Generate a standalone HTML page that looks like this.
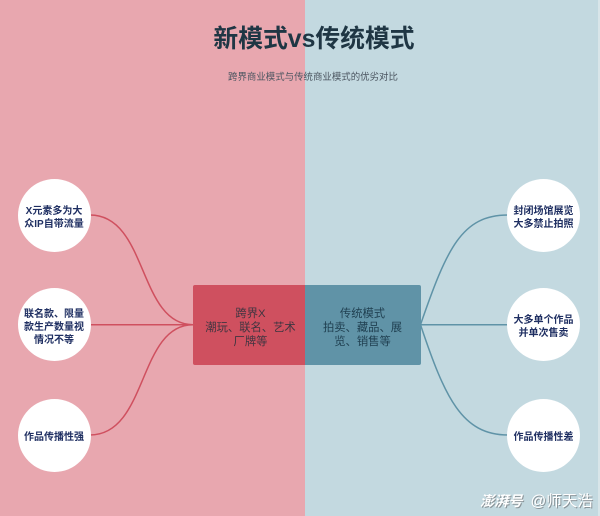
<!DOCTYPE html>
<html>
<head>
<meta charset="utf-8">
<style>
html,body{margin:0;padding:0}
body{width:600px;height:516px;position:relative;overflow:hidden;background:#c3d9e0;font-family:"Liberation Sans","Noto Sans CJK SC",sans-serif}
.abs{position:absolute}
.left{left:0;top:0;width:304.5px;height:516px;background:#e8a7af}
.edge{left:598px;top:0;width:2px;height:516px;background:#d8e5e9}
.title{left:0;top:22px;width:628px;text-align:center;font-size:24.8px;line-height:36px;font-weight:700;color:#1f3644;white-space:nowrap}
.sub{left:0;top:71px;width:626px;text-align:center;font-size:9.45px;line-height:14px;color:#4b5560;white-space:nowrap}
.c{width:73px;height:73px;padding-top:5px;box-sizing:border-box;border-radius:50%;background:#fff;display:flex;align-items:center;justify-content:center;text-align:center;font-size:10px;line-height:13px;font-weight:700;color:#1f2f62;white-space:nowrap}
.box{top:284.5px;height:80.5px;padding-top:6px;display:flex;align-items:center;justify-content:center;text-align:center;font-size:11.3px;line-height:14px;box-sizing:border-box;white-space:nowrap}
.bl{left:192.5px;width:112px;padding-left:4px;background:#cf505f;color:#3f3540;border-radius:2px 0 0 2px}
.br{left:304.5px;width:116px;background:#6093a7;color:#1f3f50;border-radius:0 2px 2px 0}
.wm{top:492.5px;color:#fff;line-height:18px;white-space:nowrap;text-shadow:1px 1px 0 #8a9499}
.wm1{left:480px;font-style:italic;font-weight:700;font-size:14.2px}
.wm2{left:530.5px;font-size:15.5px}
</style>
</head>
<body>
<div class="abs left"></div>
<div class="abs edge"></div>
<svg class="abs" style="left:0;top:0" width="600" height="516" viewBox="0 0 600 516" fill="none" stroke-width="1.5">
<g stroke="#cf505f">
<path d="M90 215 C148 215 138 324.7 193 324.7"/>
<path d="M90 324.7 L193 324.7"/>
<path d="M90 435 C148 435 138 324.7 193 324.7"/>
</g>
<g stroke="#5f93a7">
<path d="M508 215 C462 215 447 248 420.5 324.7"/>
<path d="M508 324.7 L420.5 324.7"/>
<path d="M508 435 C462 435 445 398 420.5 324.7"/>
</g>
</svg>
<div class="abs title">新模式vs传统模式</div>
<div class="abs sub">跨界商业模式与传统商业模式的优劣对比</div>
<div class="abs c" style="left:17.5px;top:178.5px">X元素多为大<br>众IP自带流量</div>
<div class="abs c" style="left:17.5px;top:288px">联名款、限量<br>款生产数量视<br>情况不等</div>
<div class="abs c" style="left:17.5px;top:398.5px">作品传播性强</div>
<div class="abs c" style="left:507px;top:178.5px">封闭场馆展览<br>大多禁止拍照</div>
<div class="abs c" style="left:507px;top:288px">大多单个作品<br>并单次售卖</div>
<div class="abs c" style="left:507px;top:398.5px">作品传播性差</div>
<div class="abs box bl"><div>跨界X<br>潮玩、联名、艺术<br>厂牌等</div></div>
<div class="abs box br"><div>传统模式<br>拍卖、藏品、展<br>览、销售等</div></div>
<div class="abs wm wm1">澎湃号</div>
<div class="abs wm wm2">@师天浩</div>
</body>
</html>
